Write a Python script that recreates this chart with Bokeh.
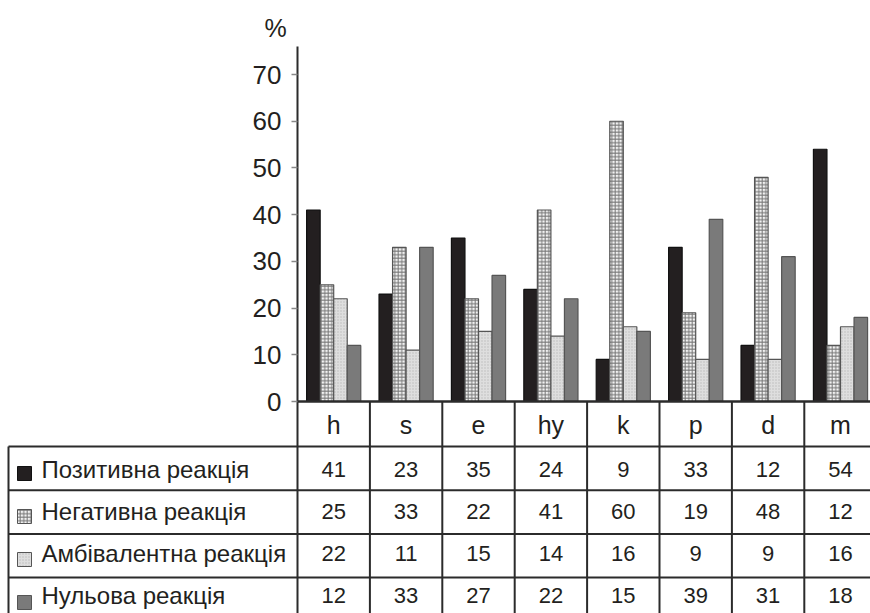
from bokeh.plotting import figure
from bokeh.models import Range1d, FixedTicker, LinearAxis, Label
from bokeh.core.properties import value
from bokeh.embed import file_html
from bokeh.resources import INLINE

# ---------------- data ----------------
categories = ["h", "s", "e", "hy", "k", "p", "d", "m"]
series_names = ["Позитивна реакція", "Негативна реакція",
                "Амбівалентна реакція", "Нульова реакція"]
positive = [41, 23, 35, 24, 9, 33, 12, 54]
negative = [25, 33, 22, 41, 60, 19, 48, 12]
ambivalent = [22, 11, 15, 14, 16, 9, 9, 16]
null_reaction = [12, 33, 27, 22, 15, 39, 31, 18]
y_ticks = [0, 10, 20, 30, 40, 50, 60, 70]
y_unit_label = "%"

series_values = [positive, negative, ambivalent, null_reaction]

# ---------------- styles / layout ----------------
FONT = "Liberation Sans"
TXT = "#231f20"
LINE = "#2b2b2b"
W, H = 870, 613
AXIS_X = 297          # px position of y axis
TOP_Y = 46            # px top of y axis
ZERO_Y = 401          # px of value 0
COL_PX = 72.4         # px per category
PX_PER_UNIT = 4.671   # px per 1 %
TABLE_TOP = 446       # px top of first data row
ROW_PX = 43.7         # px per table row
TEXT_STEP = 42.3      # px between row text centres
LEFT_BORDER = 8       # px left border of table
BW = 0.187            # bar width in category units
SW = 14               # legend swatch size, px


def px_x(px):
    return (px - AXIS_X) / COL_PX


def px_y(py):
    return (ZERO_Y - py) / PX_PER_UNIT


styles = [
    dict(fill_color="#231f20", line_color="#111111"),
    dict(fill_color="#f2f2f2", hatch_pattern="+", hatch_color="#777777",
         hatch_scale=3.5, hatch_weight=1, line_color="#555555"),
    dict(fill_color="#dedede", hatch_pattern=".", hatch_color="#bbbbbb",
         hatch_scale=3, hatch_weight=1, line_color="#555555"),
    dict(fill_color="#7a7a7a", line_color="#555555"),
]

x_start, x_end = px_x(0), px_x(W)
y_start, y_end = px_y(H), px_y(0)

p = figure(width=W, height=H, x_range=Range1d(x_start, x_end),
           y_range=Range1d(y_start, y_end), output_backend="svg",
           toolbar_location=None, x_axis_type=None, y_axis_type=None,
           min_border=0)
p.outline_line_color = None
p.background_fill_color = "white"
p.border_fill_color = "white"

n_cat = len(categories)
n_rows = len(series_names)
centers = [i + 0.5 for i in range(n_cat)]
bounds = [float(i) for i in range(n_cat)]

# ---------------- table lines ----------------
row_lines = [px_y(TABLE_TOP + i * ROW_PX) for i in range(n_rows)]
p.segment(x0=[px_x(LEFT_BORDER)] * n_rows, x1=[x_end] * n_rows,
          y0=row_lines, y1=row_lines, line_color=LINE, line_width=2)
p.segment(x0=[px_x(LEFT_BORDER)], x1=[px_x(LEFT_BORDER)],
          y0=[row_lines[0]], y1=[y_start], line_color=LINE, line_width=2)
p.segment(x0=bounds[1:], x1=bounds[1:], y0=[0] * (n_cat - 1),
          y1=[y_start] * (n_cat - 1), line_color=LINE, line_width=2)

# ---------------- bars ----------------
for j, vals in enumerate(series_values):
    xs = [c + (j - 1.5) * BW for c in centers]
    p.vbar(x=xs, top=vals, bottom=0, width=BW, line_width=1.2, **styles[j])

# ---------------- axes ----------------
yaxis = LinearAxis(ticker=FixedTicker(ticks=y_ticks), fixed_location=0,
                   bounds=(y_start, px_y(TOP_Y)))
yaxis.axis_line_width = 2
yaxis.axis_line_color = LINE
yaxis.major_tick_out = 6
yaxis.major_tick_in = 0
yaxis.major_tick_line_color = "#888888"
yaxis.major_tick_line_width = 1.5
yaxis.minor_tick_line_color = None
yaxis.major_label_standoff = 10
yaxis.major_label_text_font = FONT
yaxis.major_label_text_font_size = "26px"
yaxis.major_label_text_color = TXT
p.add_layout(yaxis, "left")

xaxis = LinearAxis(ticker=FixedTicker(ticks=centers), fixed_location=0,
                   bounds=(0, x_end),
                   major_label_overrides={c: cat for c, cat in zip(centers, categories)})
xaxis.axis_line_width = 2.5
xaxis.axis_line_color = LINE
xaxis.major_tick_out = 0
xaxis.major_tick_in = 0
xaxis.minor_tick_line_color = None
xaxis.major_label_standoff = 9
xaxis.major_label_text_font = FONT
xaxis.major_label_text_font_size = "25px"
xaxis.major_label_text_color = TXT
p.add_layout(xaxis, "below")

p.add_layout(Label(x=px_x(275), y=px_y(27), text=y_unit_label,
                   text_font=FONT, text_font_size="25px", text_color=TXT,
                   text_align="center", text_baseline="middle"))

# ---------------- table contents ----------------
for j, (name, vals) in enumerate(zip(series_names, series_values)):
    ty = px_y(TABLE_TOP + 22.5 + j * TEXT_STEP)
    p.text(x=centers, y=[ty] * n_cat, text=[str(v) for v in vals],
           text_font=value(FONT), text_font_size="22px", text_color=TXT,
           text_align="center", text_baseline="middle")
    p.text(x=[px_x(41)], y=[ty], text=[name],
           text_font=value(FONT), text_font_size="24px", text_color=TXT,
           text_align="left", text_baseline="middle")
    p.rect(x=[px_x(24)], y=[px_y(TABLE_TOP + 27 + j * 43.0)],
           width=SW / COL_PX, height=SW / PX_PER_UNIT, line_width=1, **styles[j])

open("out.html", "w").write(file_html(p, INLINE))
